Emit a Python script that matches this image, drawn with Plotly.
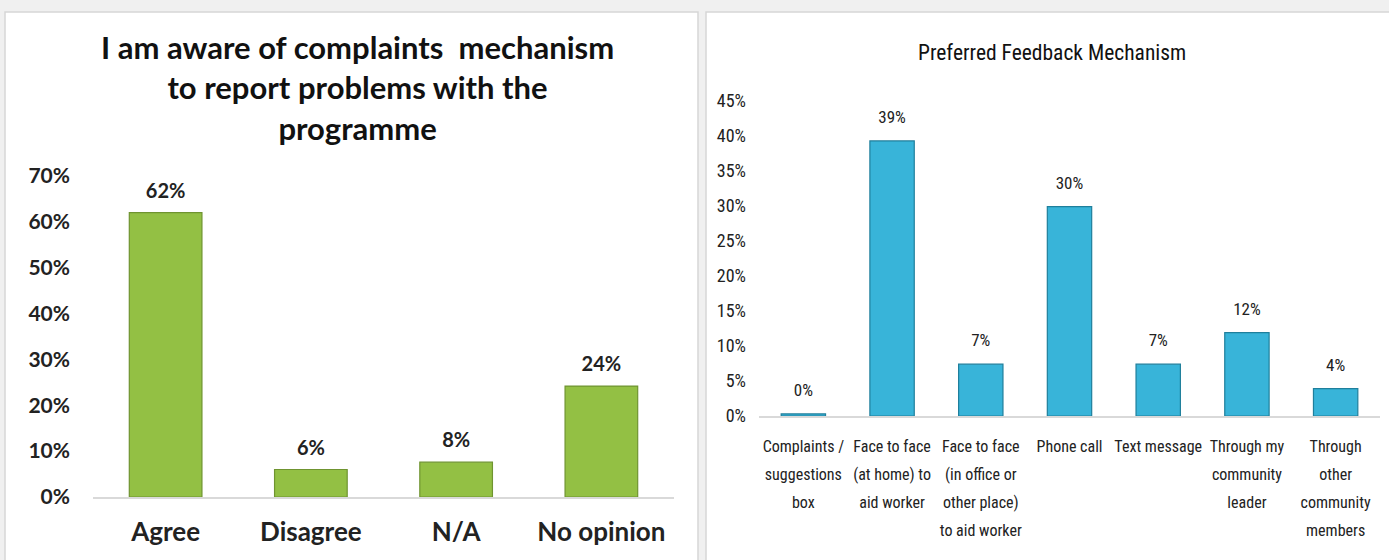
import plotly.graph_objects as go

# ---- data ----
left_title = "I am aware of complaints  mechanism<br>to report problems with the<br>programme"
left_categories = ["Agree", "Disagree", "N/A", "No opinion"]
left_values = [0.62, 0.06, 0.076, 0.242]

right_title = "Preferred Feedback Mechanism"
right_categories = [
    "Complaints /<br>suggestions<br>box",
    "Face to face<br>(at home) to<br>aid worker",
    "Face to face<br>(in office or<br>other place)<br>to aid worker",
    "Phone call",
    "Text message",
    "Through my<br>community<br>leader",
    "Through<br>other<br>community<br>members",
]
right_values = [0.003, 0.393, 0.074, 0.299, 0.074, 0.119, 0.039]

left_ticks = [0, 0.1, 0.2, 0.3, 0.4, 0.5, 0.6, 0.7]
right_ticks = [0, 0.05, 0.10, 0.15, 0.20, 0.25, 0.30, 0.35, 0.40, 0.45]

W, H = 1389, 560
BOLD = "Lato, 'Open Sans', sans-serif"
NARROW = "'Liberation Sans Narrow', 'Roboto Condensed', 'Noto Sans', sans-serif"

def px_x(p):
    return p / W

def px_y(p):
    return 1 - p / H

fig = go.Figure()

# Left bars
fig.add_trace(go.Bar(
    x=left_categories, y=left_values, xaxis="x", yaxis="y",
    marker=dict(color="#93c044", line=dict(color="#6f9430", width=1.2)),
    showlegend=False, hoverinfo="skip",
))
fig.add_trace(go.Scatter(
    x=left_categories, y=left_values, xaxis="x", yaxis="y",
    mode="markers+text", marker=dict(size=14, opacity=0),
    text=[f"{round(v*100)}%" for v in left_values], textposition="top center",
    textfont=dict(family=BOLD, size=20, color="#222222", weight="bold"),
    showlegend=False, hoverinfo="skip", cliponaxis=False,
))

# Right bars
span_cats = []
for c in right_categories:
    parts = c.split("<br>")
    span_cats.append("<br>".join(f"<span style='font-size:16px'>{p}</span>" for p in parts))

fig.add_trace(go.Bar(
    x=right_categories, y=right_values, xaxis="x2", yaxis="y2",
    marker=dict(color="#38b4d9", line=dict(color="#1f7f9c", width=1.2)),
    showlegend=False, hoverinfo="skip",
))
fig.add_trace(go.Scatter(
    x=right_categories, y=right_values, xaxis="x2", yaxis="y2",
    mode="markers+text", marker=dict(size=20, opacity=0),
    text=[f"{round(v*100)}%" for v in right_values], textposition="top center",
    textfont=dict(family=NARROW, size=17, color="#222222"),
    showlegend=False, hoverinfo="skip", cliponaxis=False,
))

fig.update_layout(
    width=W, height=H,
    margin=dict(l=0, r=0, t=0, b=0, autoexpand=False),
    paper_bgcolor="#f0f0f0", plot_bgcolor="rgba(0,0,0,0)",
    bargap=0.5,
    xaxis=dict(
        domain=[px_x(93), px_x(674)], anchor="y", automargin=False,
        showline=True, linecolor="#d9d9d9", linewidth=2,
        showgrid=False, ticks="", ticklabelstandoff=11,
        tickfont=dict(family=BOLD, size=26, color="#222222", weight="bold"),
    ),
    yaxis=dict(
        domain=[px_y(497), px_y(176)], anchor="x", automargin=False,
        range=[0, 0.7], tickvals=left_ticks, tickformat=".0%",
        showgrid=False, zeroline=False, showline=False, ticks="",
        ticklabelstandoff=22,
        tickfont=dict(family=BOLD, size=21, color="#222222", weight="bold"),
    ),
    xaxis2=dict(
        domain=[px_x(759), px_x(1380)], anchor="y2", automargin=False,
        showline=True, linecolor="#d9d9d9", linewidth=2,
        showgrid=False, ticks="", ticklabelstandoff=8,
        tickvals=right_categories, ticktext=span_cats,
        tickfont=dict(family=NARROW, size=21.5, color="#222222"),
    ),
    yaxis2=dict(
        domain=[px_y(416), px_y(101)], anchor="x2", automargin=False,
        range=[0, 0.45], tickvals=right_ticks, tickformat=".0%",
        showgrid=False, zeroline=False, showline=False, ticks="",
        ticklabelstandoff=12,
        tickfont=dict(family=NARROW, size=18, color="#222222"),
    ),
    shapes=[
        dict(type="rect", xref="paper", yref="paper", layer="below",
             x0=px_x(5), x1=px_x(698), y0=-0.01, y1=px_y(12),
             fillcolor="white", line=dict(color="#d6d6d6", width=1.5)),
        dict(type="rect", xref="paper", yref="paper", layer="below",
             x0=px_x(706), x1=1.01, y0=-0.01, y1=px_y(12),
             fillcolor="white", line=dict(color="#d6d6d6", width=1.5)),
    ],
    annotations=[
        dict(text=left_title, xref="paper", yref="paper",
             x=px_x(357), y=px_y(87), xanchor="center", yanchor="middle",
             showarrow=False,
             font=dict(family=BOLD, size=31, color="#111111", weight="bold")),
        dict(text=right_title, xref="paper", yref="paper",
             x=px_x(1052), y=px_y(52), xanchor="center", yanchor="middle",
             showarrow=False,
             font=dict(family=NARROW, size=21.5, color="#111111")),
    ],
)

fig.write_html(
    "out.html",
    config={"displayModeBar": False},
    post_script="document.body.style.margin='0';document.body.style.background='#f0f0f0';",
)
